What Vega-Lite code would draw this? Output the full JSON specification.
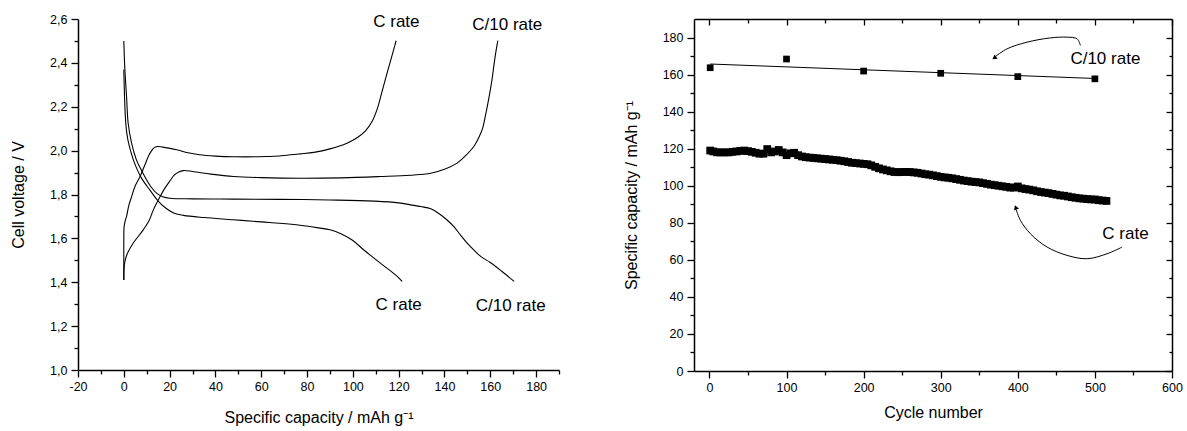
{
  "$schema": "https://vega.github.io/schema/vega-lite/v6.json",
  "padding": {"left": 10, "top": 12, "right": 5, "bottom": 5},
  "spacing": 63,
  "config": {
    "font": "Liberation Sans",
    "view": {"stroke": null},
    "axis": {
      "grid": false,
      "domainColor": "#000",
      "domainWidth": 1.5,
      "tickColor": "#000",
      "tickWidth": 1.3,
      "labelColor": "#000",
      "labelFont": "Liberation Sans",
      "labelFontSize": 12.5,
      "titleFont": "Liberation Sans",
      "titleFontSize": 16,
      "titleFontWeight": "normal",
      "titleColor": "#000",
      "labelOverlap": false,
      "labelFlush": false
    }
  },
  "datasets": {
    "volt": [
      {"s": "Cc", "i": 1, "q": 0, "v": 1.41}, {"s": "Cc", "i": 2, "q": 0, "v": 1.5}, {"s": "Cc", "i": 3, "q": 0, "v": 1.6}, {"s": "Cc", "i": 4, "q": 0.1, "v": 1.65},
      {"s": "Cc", "i": 5, "q": 0.6, "v": 1.68}, {"s": "Cc", "i": 6, "q": 1.2, "v": 1.70}, {"s": "Cc", "i": 7, "q": 2.2, "v": 1.75}, {"s": "Cc", "i": 8, "q": 3.4, "v": 1.79},
      {"s": "Cc", "i": 9, "q": 5, "v": 1.84}, {"s": "Cc", "i": 10, "q": 7, "v": 1.88}, {"s": "Cc", "i": 11, "q": 9, "v": 1.93}, {"s": "Cc", "i": 12, "q": 11, "v": 1.98},
      {"s": "Cc", "i": 13, "q": 12.5, "v": 2.005}, {"s": "Cc", "i": 14, "q": 14, "v": 2.018}, {"s": "Cc", "i": 15, "q": 17, "v": 2.016}, {"s": "Cc", "i": 16, "q": 23, "v": 2.004},
      {"s": "Cc", "i": 17, "q": 28, "v": 1.99}, {"s": "Cc", "i": 18, "q": 33, "v": 1.981}, {"s": "Cc", "i": 19, "q": 40, "v": 1.975}, {"s": "Cc", "i": 20, "q": 48, "v": 1.972},
      {"s": "Cc", "i": 21, "q": 62, "v": 1.973}, {"s": "Cc", "i": 22, "q": 70, "v": 1.978}, {"s": "Cc", "i": 23, "q": 77, "v": 1.985}, {"s": "Cc", "i": 24, "q": 83, "v": 1.992},
      {"s": "Cc", "i": 25, "q": 90, "v": 2.008}, {"s": "Cc", "i": 26, "q": 97.4, "v": 2.034}, {"s": "Cc", "i": 27, "q": 102, "v": 2.06}, {"s": "Cc", "i": 28, "q": 105.5, "v": 2.09},
      {"s": "Cc", "i": 29, "q": 108.5, "v": 2.135}, {"s": "Cc", "i": 30, "q": 110.8, "v": 2.195}, {"s": "Cc", "i": 31, "q": 112.5, "v": 2.26}, {"s": "Cc", "i": 32, "q": 114.9, "v": 2.352},
      {"s": "Cc", "i": 33, "q": 117, "v": 2.43}, {"s": "Cc", "i": 34, "q": 118.9, "v": 2.501},

      {"s": "C10c", "i": 1, "q": 0, "v": 1.41}, {"s": "C10c", "i": 2, "q": 0.1, "v": 1.46}, {"s": "C10c", "i": 3, "q": 0.4, "v": 1.49}, {"s": "C10c", "i": 4, "q": 1.5, "v": 1.53},
      {"s": "C10c", "i": 5, "q": 4.1, "v": 1.578}, {"s": "C10c", "i": 6, "q": 8.5, "v": 1.639}, {"s": "C10c", "i": 7, "q": 11, "v": 1.68}, {"s": "C10c", "i": 8, "q": 12.9, "v": 1.73},
      {"s": "C10c", "i": 9, "q": 15.8, "v": 1.79}, {"s": "C10c", "i": 10, "q": 18, "v": 1.83}, {"s": "C10c", "i": 11, "q": 20, "v": 1.86}, {"s": "C10c", "i": 12, "q": 22, "v": 1.888},
      {"s": "C10c", "i": 13, "q": 24, "v": 1.903}, {"s": "C10c", "i": 14, "q": 26, "v": 1.909}, {"s": "C10c", "i": 15, "q": 30, "v": 1.905}, {"s": "C10c", "i": 16, "q": 38, "v": 1.893},
      {"s": "C10c", "i": 17, "q": 48, "v": 1.882}, {"s": "C10c", "i": 18, "q": 60, "v": 1.877}, {"s": "C10c", "i": 19, "q": 77, "v": 1.874}, {"s": "C10c", "i": 20, "q": 95, "v": 1.876},
      {"s": "C10c", "i": 21, "q": 112, "v": 1.882}, {"s": "C10c", "i": 22, "q": 125, "v": 1.888}, {"s": "C10c", "i": 23, "q": 134, "v": 1.897}, {"s": "C10c", "i": 24, "q": 140, "v": 1.915},
      {"s": "C10c", "i": 25, "q": 145.5, "v": 1.943}, {"s": "C10c", "i": 26, "q": 149, "v": 1.975}, {"s": "C10c", "i": 27, "q": 152.8, "v": 2.019}, {"s": "C10c", "i": 28, "q": 155, "v": 2.06},
      {"s": "C10c", "i": 29, "q": 156.6, "v": 2.1}, {"s": "C10c", "i": 30, "q": 158, "v": 2.165}, {"s": "C10c", "i": 31, "q": 159.5, "v": 2.246}, {"s": "C10c", "i": 32, "q": 160.7, "v": 2.32},
      {"s": "C10c", "i": 33, "q": 161.7, "v": 2.398}, {"s": "C10c", "i": 34, "q": 162.6, "v": 2.46}, {"s": "C10c", "i": 35, "q": 163.3, "v": 2.501},

      {"s": "C10d", "i": 1, "q": 0, "v": 2.5}, {"s": "C10d", "i": 2, "q": 0.44, "v": 2.375}, {"s": "C10d", "i": 3, "q": 1.2, "v": 2.246}, {"s": "C10d", "i": 4, "q": 1.9, "v": 2.125},
      {"s": "C10d", "i": 5, "q": 3.4, "v": 2.034}, {"s": "C10d", "i": 6, "q": 5.5, "v": 1.958}, {"s": "C10d", "i": 7, "q": 7.7, "v": 1.91}, {"s": "C10d", "i": 8, "q": 9.9, "v": 1.867},
      {"s": "C10d", "i": 9, "q": 12, "v": 1.833}, {"s": "C10d", "i": 10, "q": 14.3, "v": 1.806}, {"s": "C10d", "i": 11, "q": 17, "v": 1.79}, {"s": "C10d", "i": 12, "q": 20.1, "v": 1.783},
      {"s": "C10d", "i": 13, "q": 30, "v": 1.78}, {"s": "C10d", "i": 14, "q": 48, "v": 1.779}, {"s": "C10d", "i": 15, "q": 68, "v": 1.778}, {"s": "C10d", "i": 16, "q": 90, "v": 1.775},
      {"s": "C10d", "i": 17, "q": 109, "v": 1.77}, {"s": "C10d", "i": 18, "q": 120, "v": 1.762}, {"s": "C10d", "i": 19, "q": 129.5, "v": 1.745}, {"s": "C10d", "i": 20, "q": 134, "v": 1.735},
      {"s": "C10d", "i": 21, "q": 138, "v": 1.71}, {"s": "C10d", "i": 22, "q": 141, "v": 1.685}, {"s": "C10d", "i": 23, "q": 144.1, "v": 1.654}, {"s": "C10d", "i": 24, "q": 147, "v": 1.615},
      {"s": "C10d", "i": 25, "q": 149.9, "v": 1.578}, {"s": "C10d", "i": 26, "q": 153, "v": 1.545}, {"s": "C10d", "i": 27, "q": 155.8, "v": 1.518}, {"s": "C10d", "i": 28, "q": 160, "v": 1.49},
      {"s": "C10d", "i": 29, "q": 165, "v": 1.45}, {"s": "C10d", "i": 30, "q": 170.4, "v": 1.404},

      {"s": "Cd", "i": 1, "q": 0, "v": 2.37}, {"s": "Cd", "i": 2, "q": 0.3, "v": 2.25}, {"s": "Cd", "i": 3, "q": 0.7, "v": 2.15}, {"s": "Cd", "i": 4, "q": 1.3, "v": 2.08},
      {"s": "Cd", "i": 5, "q": 2.4, "v": 2.02}, {"s": "Cd", "i": 6, "q": 4.1, "v": 1.96}, {"s": "Cd", "i": 7, "q": 6, "v": 1.91}, {"s": "Cd", "i": 8, "q": 8, "v": 1.87},
      {"s": "Cd", "i": 9, "q": 11.4, "v": 1.82}, {"s": "Cd", "i": 10, "q": 15, "v": 1.77}, {"s": "Cd", "i": 11, "q": 18.7, "v": 1.735}, {"s": "Cd", "i": 12, "q": 22, "v": 1.715},
      {"s": "Cd", "i": 13, "q": 26, "v": 1.705}, {"s": "Cd", "i": 14, "q": 35, "v": 1.695}, {"s": "Cd", "i": 15, "q": 47.8, "v": 1.685}, {"s": "Cd", "i": 16, "q": 60, "v": 1.675},
      {"s": "Cd", "i": 17, "q": 68, "v": 1.669}, {"s": "Cd", "i": 18, "q": 77, "v": 1.66}, {"s": "Cd", "i": 19, "q": 85, "v": 1.648}, {"s": "Cd", "i": 20, "q": 90, "v": 1.639},
      {"s": "Cd", "i": 21, "q": 95, "v": 1.62}, {"s": "Cd", "i": 22, "q": 100, "v": 1.59}, {"s": "Cd", "i": 23, "q": 104.7, "v": 1.548}, {"s": "Cd", "i": 24, "q": 108, "v": 1.52},
      {"s": "Cd", "i": 25, "q": 112, "v": 1.487}, {"s": "Cd", "i": 26, "q": 116, "v": 1.455}, {"s": "Cd", "i": 27, "q": 119, "v": 1.43}, {"s": "Cd", "i": 28, "q": 121.5, "v": 1.404}
    ],
    "voltLabels": [
      {"q": 119, "v": 2.588, "t": "C rate"},
      {"q": 167.4, "v": 2.573, "t": "C/10 rate"},
      {"q": 120, "v": 1.298, "t": "C rate"},
      {"q": 168.9, "v": 1.29, "t": "C/10 rate"}
    ],
    "crate": [
      {"cycle": 1, "cap": 119}, {"cycle": 5, "cap": 118.5}, {"cycle": 10, "cap": 118}, {"cycle": 15, "cap": 118}, {"cycle": 20, "cap": 118},
      {"cycle": 25, "cap": 118}, {"cycle": 30, "cap": 118.3}, {"cycle": 35, "cap": 118.5}, {"cycle": 40, "cap": 118.8}, {"cycle": 45, "cap": 119},
      {"cycle": 50, "cap": 118.7}, {"cycle": 55, "cap": 118.3}, {"cycle": 60, "cap": 117.8}, {"cycle": 65, "cap": 117.3}, {"cycle": 70, "cap": 117.3},
      {"cycle": 75, "cap": 119.8}, {"cycle": 80, "cap": 118}, {"cycle": 85, "cap": 118.5}, {"cycle": 90, "cap": 119.3}, {"cycle": 95, "cap": 118},
      {"cycle": 100, "cap": 116.5}, {"cycle": 105, "cap": 117.5}, {"cycle": 110, "cap": 117.8}, {"cycle": 115, "cap": 116.5}, {"cycle": 120, "cap": 115.8},
      {"cycle": 125, "cap": 115.4}, {"cycle": 130, "cap": 115.2}, {"cycle": 135, "cap": 115}, {"cycle": 140, "cap": 114.8}, {"cycle": 145, "cap": 114.6},
      {"cycle": 150, "cap": 114.4}, {"cycle": 155, "cap": 114.2}, {"cycle": 160, "cap": 114}, {"cycle": 165, "cap": 113.8}, {"cycle": 170, "cap": 113.5},
      {"cycle": 175, "cap": 113.2}, {"cycle": 180, "cap": 112.8}, {"cycle": 185, "cap": 112.4}, {"cycle": 190, "cap": 112.2}, {"cycle": 195, "cap": 112},
      {"cycle": 200, "cap": 111.8}, {"cycle": 205, "cap": 111.6}, {"cycle": 210, "cap": 111}, {"cycle": 215, "cap": 110.2}, {"cycle": 220, "cap": 109.4},
      {"cycle": 225, "cap": 108.8}, {"cycle": 230, "cap": 108.3}, {"cycle": 235, "cap": 107.8}, {"cycle": 240, "cap": 107.4}, {"cycle": 245, "cap": 107.3},
      {"cycle": 250, "cap": 107.4}, {"cycle": 255, "cap": 107.5}, {"cycle": 260, "cap": 107.4}, {"cycle": 265, "cap": 107.2}, {"cycle": 270, "cap": 107},
      {"cycle": 275, "cap": 106.6}, {"cycle": 280, "cap": 106.2}, {"cycle": 285, "cap": 106}, {"cycle": 290, "cap": 105.6}, {"cycle": 295, "cap": 105.2},
      {"cycle": 300, "cap": 104.8}, {"cycle": 305, "cap": 104.5}, {"cycle": 310, "cap": 104.3}, {"cycle": 315, "cap": 104}, {"cycle": 320, "cap": 103.6},
      {"cycle": 325, "cap": 103.2}, {"cycle": 330, "cap": 102.8}, {"cycle": 335, "cap": 102.5}, {"cycle": 340, "cap": 102.2}, {"cycle": 345, "cap": 102},
      {"cycle": 350, "cap": 101.8}, {"cycle": 355, "cap": 101.4}, {"cycle": 360, "cap": 101}, {"cycle": 365, "cap": 100.6}, {"cycle": 370, "cap": 100.3},
      {"cycle": 375, "cap": 100}, {"cycle": 380, "cap": 99.7}, {"cycle": 385, "cap": 99.4}, {"cycle": 390, "cap": 99}, {"cycle": 395, "cap": 99},
      {"cycle": 400, "cap": 99.6}, {"cycle": 405, "cap": 98.6}, {"cycle": 410, "cap": 98.2}, {"cycle": 415, "cap": 97.9}, {"cycle": 420, "cap": 97.5},
      {"cycle": 425, "cap": 97}, {"cycle": 430, "cap": 96.6}, {"cycle": 435, "cap": 96.3}, {"cycle": 440, "cap": 96}, {"cycle": 445, "cap": 95.6},
      {"cycle": 450, "cap": 95.2}, {"cycle": 455, "cap": 94.8}, {"cycle": 460, "cap": 94.6}, {"cycle": 465, "cap": 94.2}, {"cycle": 470, "cap": 93.8},
      {"cycle": 475, "cap": 93.5}, {"cycle": 480, "cap": 93.2}, {"cycle": 485, "cap": 93}, {"cycle": 490, "cap": 92.8}, {"cycle": 495, "cap": 92.6},
      {"cycle": 500, "cap": 92.6}, {"cycle": 505, "cap": 92.2}, {"cycle": 510, "cap": 92}, {"cycle": 515, "cap": 91.8}
    ],
    "c10": [
      {"cycle": 1, "cap": 163.7}, {"cycle": 100, "cap": 168.4}, {"cycle": 200, "cap": 161.9},
      {"cycle": 300, "cap": 160.7}, {"cycle": 400, "cap": 158.9}, {"cycle": 500, "cap": 157.7}
    ],
    "fit": [
      {"cycle": 1, "cap": 165.7}, {"cycle": 500, "cap": 157.9}
    ],
    "arrowC10": [
      {"i": 1, "cycle": 481.2, "cap": 175.7}, {"i": 2, "cycle": 476.9, "cap": 179.3}, {"i": 3, "cycle": 463.9, "cap": 180.2},
      {"i": 4, "cycle": 442.3, "cap": 179.8}, {"i": 5, "cycle": 412.1, "cap": 177.5}, {"i": 6, "cycle": 386.1, "cap": 173.9},
      {"i": 7, "cycle": 371, "cap": 169.8}
    ],
    "tipC10": [{"cycle": 369.5, "cap": 169}],
    "arrowC": [
      {"i": 1, "cycle": 535.3, "cap": 66.9}, {"i": 2, "cycle": 515.8, "cap": 63.3}, {"i": 3, "cycle": 489.9, "cap": 60.6},
      {"i": 4, "cycle": 463.9, "cap": 62.4}, {"i": 5, "cycle": 438, "cap": 66.9}, {"i": 6, "cycle": 416.3, "cap": 74.1},
      {"i": 7, "cycle": 403.4, "cap": 81.3}, {"i": 8, "cycle": 398, "cap": 87}
    ],
    "tipC": [{"cycle": 397.3, "cap": 88.3}],
    "capLabels": [
      {"cycle": 513.6, "cap": 168.5, "t": "C/10 rate"},
      {"cycle": 539.6, "cap": 74.1, "t": "C rate"}
    ]
  },
  "hconcat": [
    {
      "width": 481,
      "height": 351,
      "resolve": {"axis": {"x": "independent", "y": "independent"}},
      "layer": [
        {
          "data": {"name": "volt"},
          "mark": {"type": "line", "color": "#000", "strokeWidth": 1.1, "interpolate": "catmull-rom"},
          "encoding": {
            "x": {
              "field": "q", "type": "quantitative",
              "scale": {"domain": [-20, 190], "nice": false, "zero": false},
              "axis": {
                "orient": "bottom",
                "values": [-20, 0, 20, 40, 60, 80, 100, 120, 140, 160, 180],
                "labelExpr": "datum.value < 0 ? '-' + abs(datum.value) : '' + datum.value",
                "tickSize": 7,
                "labelPadding": 3,
                "title": "Specific capacity / mAh g⁻¹",
                "titlePadding": 17
              }
            },
            "y": {
              "field": "v", "type": "quantitative",
              "scale": {"domain": [1.0, 2.6], "nice": false, "zero": false},
              "axis": {
                "orient": "left",
                "values": [1.0, 1.2, 1.4, 1.6, 1.8, 2.0, 2.2, 2.4, 2.6],
                "labelExpr": "replace(format(datum.value, '.1f'), '.', ',')",
                "tickSize": 7,
                "labelPadding": 4,
                "title": "Cell voltage / V",
                "titlePadding": 23
              }
            },
            "detail": {"field": "s"},
            "order": {"field": "i", "type": "quantitative"}
          }
        },
        {
          "data": {"name": "voltLabels"},
          "mark": {"type": "text", "fontSize": 17, "color": "#000", "font": "Liberation Sans"},
          "encoding": {
            "x": {
              "field": "q", "type": "quantitative",
              "axis": {
                "orient": "bottom",
                "values": [-10, 10, 30, 50, 70, 90, 110, 130, 150, 170, 190],
                "labels": false, "domain": false, "title": null, "tickSize": 4
              }
            },
            "y": {
              "field": "v", "type": "quantitative",
              "axis": {
                "orient": "left",
                "values": [1.1, 1.3, 1.5, 1.7, 1.9, 2.1, 2.3, 2.5],
                "labels": false, "domain": false, "title": null, "tickSize": 4
              }
            },
            "text": {"field": "t"}
          }
        }
      ]
    },
    {
      "width": 478,
      "height": 352,
      "resolve": {"axis": {"x": "independent", "y": "independent"}},
      "layer": [
        {
          "data": {"name": "crate"},
          "mark": {"type": "point", "shape": "square", "filled": true, "color": "#000", "opacity": 1, "size": 60},
          "encoding": {
            "x": {
              "field": "cycle", "type": "quantitative",
              "scale": {"domain": [-20, 600], "nice": false, "zero": false},
              "axis": {
                "orient": "bottom",
                "values": [0, 100, 200, 300, 400, 500, 600],
                "tickSize": 7,
                "labelPadding": 3,
                "title": "Cycle number",
                "titlePadding": 11
              }
            },
            "y": {
              "field": "cap", "type": "quantitative",
              "scale": {"domain": [0, 190], "nice": false, "zero": false},
              "axis": {
                "orient": "left",
                "values": [0, 20, 40, 60, 80, 100, 120, 140, 160, 180],
                "tickSize": 7,
                "labelPadding": 4,
                "title": "Specific capacity / mAh g⁻¹",
                "titlePadding": 23
              }
            }
          }
        },
        {
          "data": {"name": "fit"},
          "mark": {"type": "line", "color": "#000", "strokeWidth": 1},
          "encoding": {
            "x": {
              "field": "cycle", "type": "quantitative",
              "axis": {
                "orient": "bottom",
                "values": [50, 150, 250, 350, 450, 550],
                "labels": false, "domain": false, "title": null, "tickSize": 4
              }
            },
            "y": {
              "field": "cap", "type": "quantitative",
              "axis": {
                "orient": "left",
                "values": [10, 30, 50, 70, 90, 110, 130, 150, 170],
                "labels": false, "domain": false, "title": null, "tickSize": 4
              }
            }
          }
        },
        {
          "data": {"name": "c10"},
          "mark": {"type": "point", "shape": "square", "filled": true, "color": "#000", "opacity": 1, "size": 45},
          "encoding": {
            "x": {
              "field": "cycle", "type": "quantitative",
              "axis": {
                "orient": "top",
                "values": [0, 100, 200, 300, 400, 500, 600],
                "labels": false, "domain": true, "title": null, "tickSize": -6
              }
            },
            "y": {
              "field": "cap", "type": "quantitative",
              "axis": {
                "orient": "right",
                "values": [0, 20, 40, 60, 80, 100, 120, 140, 160, 180],
                "labels": false, "domain": true, "title": null, "tickSize": -6
              }
            }
          }
        },
        {
          "data": {"name": "arrowC10"},
          "mark": {"type": "line", "color": "#000", "strokeWidth": 1, "interpolate": "catmull-rom"},
          "encoding": {
            "x": {
              "field": "cycle", "type": "quantitative",
              "axis": {
                "orient": "top",
                "values": [50, 150, 250, 350, 450, 550],
                "labels": false, "domain": false, "title": null, "tickSize": -4
              }
            },
            "y": {
              "field": "cap", "type": "quantitative",
              "axis": {
                "orient": "right",
                "values": [10, 30, 50, 70, 90, 110, 130, 150, 170],
                "labels": false, "domain": false, "title": null, "tickSize": -3
              }
            },
            "order": {"field": "i", "type": "quantitative"}
          }
        },
        {
          "data": {"name": "arrowC"},
          "mark": {"type": "line", "color": "#000", "strokeWidth": 1, "interpolate": "catmull-rom"},
          "encoding": {
            "x": {"field": "cycle", "type": "quantitative", "axis": null},
            "y": {"field": "cap", "type": "quantitative", "axis": null},
            "order": {"field": "i", "type": "quantitative"}
          }
        },
        {
          "data": {"name": "tipC10"},
          "mark": {"type": "point", "shape": "triangle-up", "filled": true, "color": "#000", "opacity": 1, "size": 28, "angle": 233},
          "encoding": {
            "x": {"field": "cycle", "type": "quantitative", "axis": null},
            "y": {"field": "cap", "type": "quantitative", "axis": null}
          }
        },
        {
          "data": {"name": "tipC"},
          "mark": {"type": "point", "shape": "triangle-up", "filled": true, "color": "#000", "opacity": 1, "size": 28, "angle": 339},
          "encoding": {
            "x": {"field": "cycle", "type": "quantitative", "axis": null},
            "y": {"field": "cap", "type": "quantitative", "axis": null}
          }
        },
        {
          "data": {"name": "capLabels"},
          "mark": {"type": "text", "fontSize": 17, "color": "#000", "font": "Liberation Sans"},
          "encoding": {
            "x": {"field": "cycle", "type": "quantitative", "axis": null},
            "y": {"field": "cap", "type": "quantitative", "axis": null},
            "text": {"field": "t"}
          }
        }
      ]
    }
  ]
}
